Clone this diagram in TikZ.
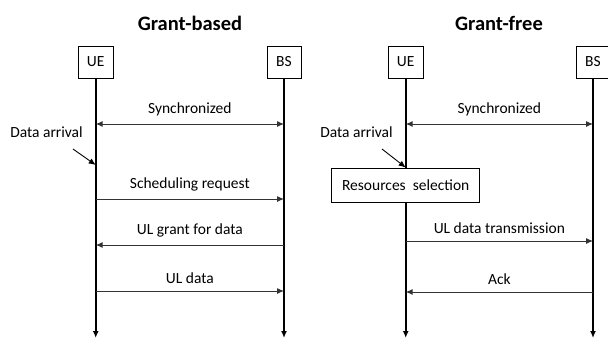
\documentclass[tikz,border=0pt]{standalone}
\usepackage{fontspec}
\setmainfont{Carlito}
\usetikzlibrary{positioning,arrows.meta,calc}

\begin{document}
\begin{tikzpicture}[x=1pt,y=-1pt,
    entity/.style={draw, line width=1pt, minimum width=35pt, minimum height=32pt, inner sep=2pt, font=\fontsize{15.5}{18}\selectfont},
    lifeline/.style={line width=1.6pt, -{Latex[length=7pt,width=6pt]}},
    msg/.style={line width=1pt, draw=black!80, -{Latex[length=7pt,width=6pt]}},
    sync/.style={line width=1pt, draw=black!80, {Latex[length=7pt,width=6pt]}-{Latex[length=7pt,width=6pt]}},
    txt/.style={font=\fontsize{15.5}{18}\selectfont},
    title/.style={font=\fontsize{20.5}{24}\selectfont\bfseries}]
    \useasboundingbox (0,0) rectangle (608,340);

    % Grant-based
    \node[title] (tgb) at (190,23) {Grant-based};
    \node[entity] (ueA) at (95.7,62) {UE};
    \node[entity, minimum width=34pt] (bsA) at (284,62) {BS};
    \coordinate (ueAend) at (95.7,338);
    \coordinate (bsAend) at (284,338);
    \draw[lifeline] (ueA.south) -- (ueAend);
    \draw[lifeline] (bsA.south) -- (bsAend);

    \coordinate (a1) at (95.7,124); \coordinate (b1) at (284,124);
    \coordinate (a2) at (95.7,199); \coordinate (b2) at (284,199);
    \coordinate (a3) at (95.7,245); \coordinate (b3) at (284,245);
    \coordinate (a4) at (95.7,291); \coordinate (b4) at (284,291);
    \draw[sync] (a1) -- node[txt, above=4pt] {Synchronized} (b1);
    \draw[msg] (a2) -- node[txt, above=4pt] {Scheduling request} (b2);
    \draw[msg] (b3) -- node[txt, above=4pt] {UL grant for data} (a3);
    \draw[msg] (a4) -- node[txt, above=4pt] {UL data} (b4);

    \node[txt] (daA) at (46.5,132) {Data arrival};
    \coordinate (daAstart) at (73,149);
    \coordinate (daAend) at (95.7,165);
    \draw[line width=0.9pt, -{Latex[length=7pt,width=6pt]}] (daAstart) -- (daAend);

    % Grant-free
    \node[title] (tgf) at (499,23) {Grant-free};
    \node[entity] (ueB) at (405.7,62) {UE};
    \node[entity, minimum width=34pt] (bsB) at (593,62) {BS};
    \coordinate (ueBend) at (405.7,338);
    \coordinate (bsBend) at (593,338);
    \draw[lifeline] (ueB.south) -- (ueBend);
    \draw[lifeline] (bsB.south) -- (bsBend);

    \node[entity, fill=white, minimum width=148pt, minimum height=34pt] (rs) at (405.7,185) {Resources\ \ selection};

    \coordinate (c1) at (405.7,124); \coordinate (d1) at (593,124);
    \coordinate (c2) at (405.7,241); \coordinate (d2) at (593,241);
    \coordinate (c3) at (405.7,292); \coordinate (d3) at (593,292);
    \draw[sync] (c1) -- node[txt, above=4pt] {Synchronized} (d1);
    \draw[msg] (c2) -- node[txt, above=4pt] {UL data transmission} (d2);
    \draw[msg] (d3) -- node[txt, above=4pt] {Ack} (c3);

    \node[txt] (daB) at (356.5,132) {Data arrival};
    \coordinate (daBstart) at (382,149);
    \draw[line width=0.9pt, -{Latex[length=7pt,width=6pt]}] (daBstart) -- (rs.north);
\end{tikzpicture}
\end{document}
